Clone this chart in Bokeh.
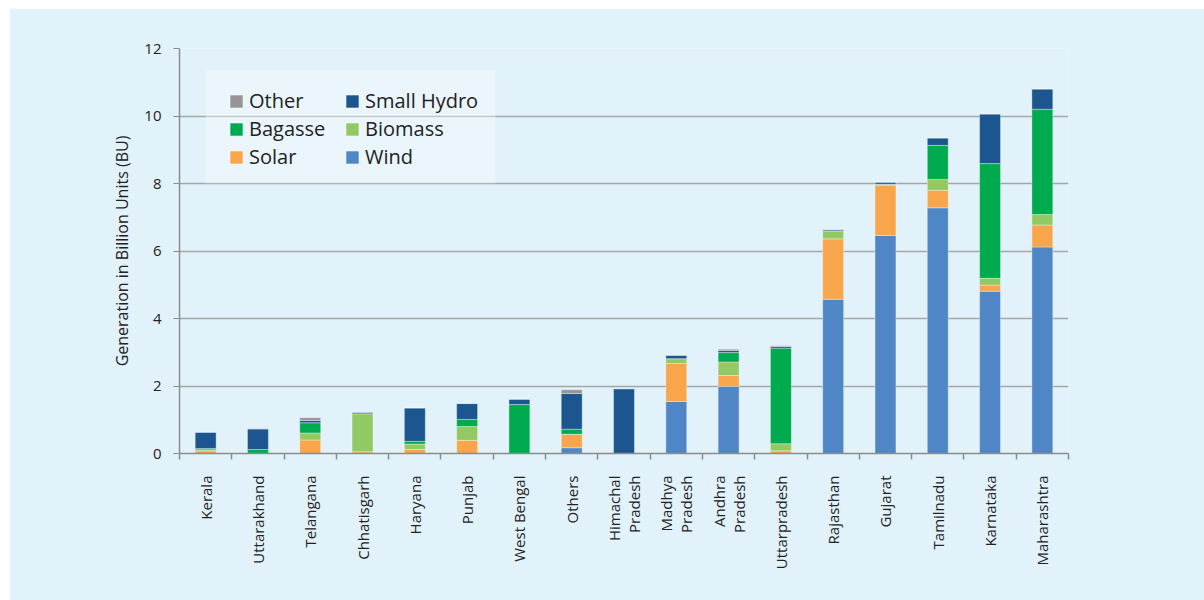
import math
from bokeh.plotting import figure
from bokeh.models import Range1d, FixedTicker, Legend, LegendItem, ColumnDataSource, BoxAnnotation
from bokeh.embed import file_html
from bokeh.resources import INLINE

# Renewable generation by state, billion units (BU)
states = ["Kerala", "Uttarakhand", "Telangana", "Chhatisgarh", "Haryana", "Punjab",
          "West Bengal", "Others", "Himachal\nPradesh", "Madhya\nPradesh", "Andhra\nPradesh",
          "Uttarpradesh", "Rajasthan", "Gujarat", "Tamilnadu", "Karnataka", "Maharashtra"]
wind = [0, 0, 0, 0, 0, 0, 0, 0.17, 0, 1.54, 1.99, 0, 4.57, 6.46, 7.28, 4.81, 6.12]
solar = [0.08, 0, 0.40, 0.05, 0.12, 0.39, 0, 0.40, 0, 1.13, 0.32, 0.08, 1.79, 1.49, 0.52, 0.18, 0.65]
biomass = [0.03, 0, 0.21, 1.13, 0.16, 0.41, 0, 0, 0, 0.14, 0.40, 0.21, 0.24, 0.03, 0.32, 0.20, 0.31]
bagasse = [0.04, 0.12, 0.30, 0, 0.08, 0.21, 1.45, 0.15, 0, 0, 0.28, 2.83, 0, 0, 1.01, 3.40, 3.12]
small_hydro = [0.48, 0.61, 0.07, 0.04, 0.99, 0.47, 0.16, 1.06, 1.92, 0.10, 0.06, 0.05, 0.04, 0.06, 0.22, 1.47, 0.60]
other = [0, 0, 0.08, 0, 0, 0, 0, 0.11, 0, 0, 0.04, 0.02, 0, 0, 0, 0, 0]

series = ["Wind", "Solar", "Biomass", "Bagasse", "Small Hydro", "Other"]
colors = ["#4F86C6", "#F9A54B", "#93C963", "#00AA4F", "#1B568E", "#959595"]
y_ticks = [0, 2, 4, 6, 8, 10, 12]

FONT = "Open Sans"
BG = "#E1F2FA"

xpos = [i + 0.5 for i in range(len(states))]
source = ColumnDataSource(dict(x=xpos, Wind=wind, Solar=solar, Biomass=biomass,
                               Bagasse=bagasse, **{"Small Hydro": small_hydro}, Other=other))

p = figure(width=1195, height=592, output_backend="svg", toolbar_location=None,
           x_range=Range1d(0, len(states)), y_range=Range1d(0, 12),
           min_border_left=170, min_border_right=136, min_border_top=40, min_border_bottom=147)
p.margin = (8, 0, 0, 9)
p.background_fill_color = BG
p.border_fill_color = BG
p.outline_line_color = None

renderers = p.vbar_stack(series, x="x", width=0.4, source=source, color=colors,
                         line_color="white", line_alpha=0.35, line_width=1)

# grid
p.xgrid.visible = False
p.ygrid.grid_line_color = "#A6A6A6"
p.ygrid.grid_line_width = 1.5
p.ygrid.ticker = FixedTicker(ticks=y_ticks)

# y axis
ya = p.yaxis[0]
ya.ticker = FixedTicker(ticks=y_ticks)
ya.axis_line_color = "#8C8C8C"
ya.axis_line_width = 1.5
ya.major_tick_line_color = "#8C8C8C"
ya.major_tick_in = 0
ya.major_tick_out = 6
ya.minor_tick_line_color = None
ya.major_label_text_font = FONT
ya.major_label_text_font_size = "15px"
ya.major_label_text_color = "#222222"
ya.major_label_standoff = 12
ya.axis_label = "Generation in Billion Units (BU)"
ya.axis_label_text_font = FONT
ya.axis_label_text_font_size = "16px"
ya.axis_label_text_font_style = "normal"
ya.axis_label_text_color = "#222222"
ya.axis_label_standoff = 8

# x axis: labels at category centres, tick marks on the boundaries
xa = p.xaxis[0]
xa.ticker = FixedTicker(ticks=xpos, minor_ticks=list(range(len(states) + 1)))
xa.major_label_overrides = {x: s for x, s in zip(xpos, states)}
xa.axis_line_color = "#8C8C8C"
xa.axis_line_width = 1.5
xa.major_tick_line_color = None
xa.major_tick_in = 0
xa.major_tick_out = 0
xa.minor_tick_line_color = "#8C8C8C"
xa.minor_tick_line_width = 1.5
xa.minor_tick_in = 0
xa.minor_tick_out = 6
xa.major_label_orientation = math.pi / 2
xa.major_label_text_font = FONT
xa.major_label_text_font_size = "15px"
xa.major_label_text_line_height = 1.0
xa.major_label_text_color = "#222222"
xa.major_label_standoff = 16

# translucent panel behind the legend
p.add_layout(BoxAnnotation(left=0.5, right=6.04, bottom=8.0, top=11.35,
                           fill_color="white", fill_alpha=0.35, line_color=None,
                           level="underlay"))

# legend, two columns
by_name = dict(zip(series, renderers))
order = ["Other", "Bagasse", "Solar", "Small Hydro", "Biomass", "Wind"]
legend = Legend(items=[LegendItem(label=n, renderers=[by_name[n]]) for n in order],
                location=(49, 283), ncols=2, orientation="vertical")
legend.background_fill_alpha = 0
legend.border_line_color = None
legend.label_text_font = FONT
legend.label_text_font_size = "20px"
legend.label_text_color = "#222222"
legend.glyph_width = 16
legend.glyph_height = 16
legend.label_height = 20
legend.label_width = 94
legend.label_standoff = 5
legend.spacing = 1
legend.padding = 0
legend.margin = 0
p.add_layout(legend, "center")

open("out.html", "w").write(file_html(p, INLINE))
